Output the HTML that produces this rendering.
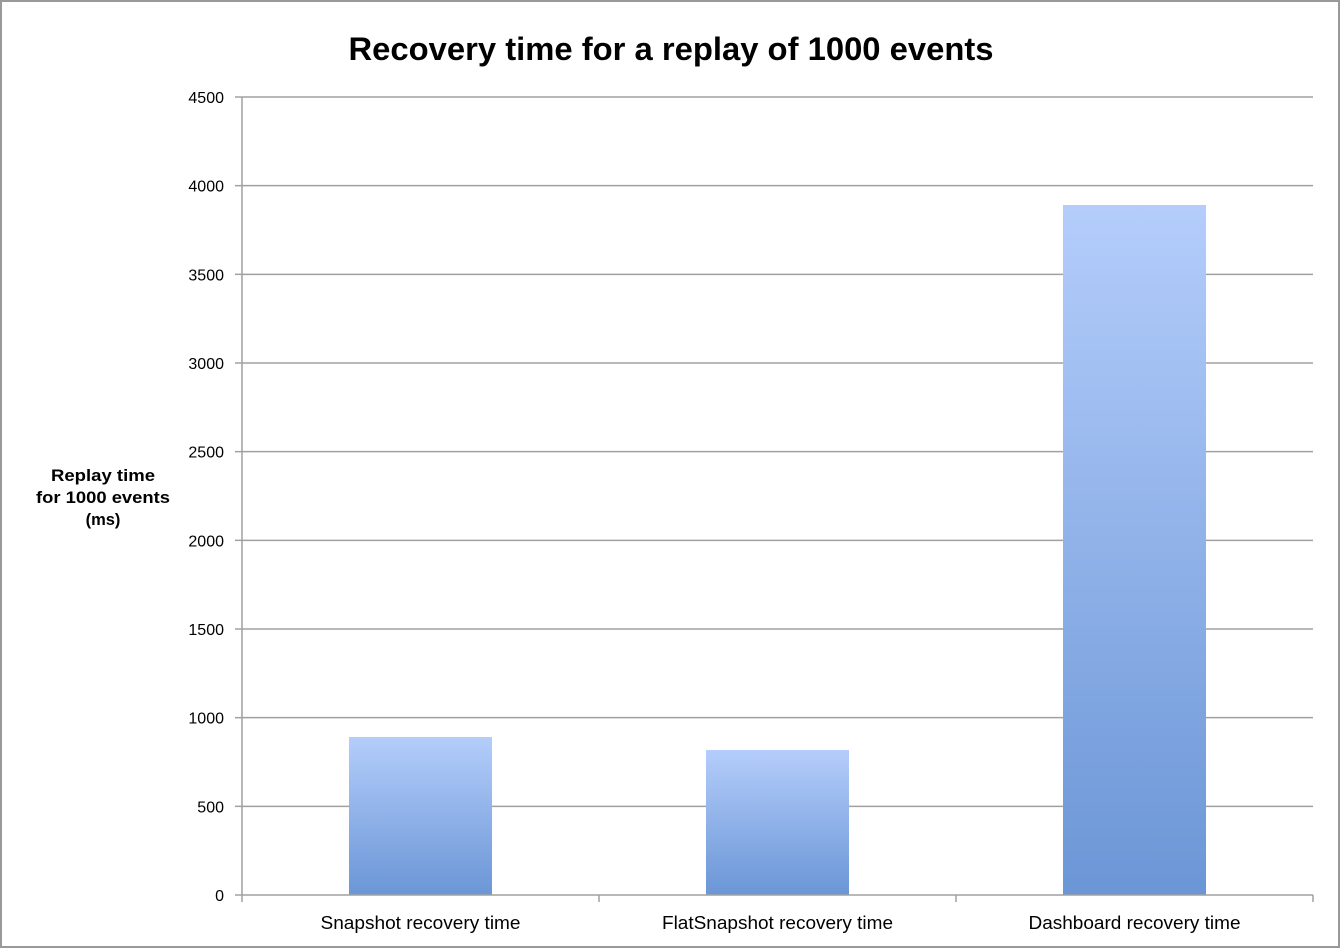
<!DOCTYPE html>
<html><head><meta charset="utf-8"><style>
html,body{margin:0;padding:0;background:#fff;}
svg{display:block;font-family:"Liberation Sans",sans-serif;}
</style></head><body>
<svg id="chart" width="1341" height="950">
<defs><linearGradient id="g" x1="0" y1="0" x2="0" y2="1"><stop offset="0" stop-color="#b4cdfb"/><stop offset="1" stop-color="#6b96d6"/></linearGradient></defs>
<rect x="1" y="1" width="1338" height="946" fill="#fff" stroke="#999" stroke-width="2"/>
<text x="671" y="60" text-anchor="middle" font-size="32" font-weight="bold" fill="#000" textLength="645" lengthAdjust="spacingAndGlyphs">Recovery time for a replay of 1000 events</text>
<text x="103" y="481" text-anchor="middle" font-size="16.5" font-weight="bold"><tspan x="103" textLength="104" lengthAdjust="spacingAndGlyphs">Replay time</tspan><tspan x="103" dy="22" textLength="134" lengthAdjust="spacingAndGlyphs">for 1000 events</tspan><tspan x="103" dy="22">(ms)</tspan></text>
<g id="grid"></g><g id="bars"></g><g id="axes"></g>
</svg>
<script>
const categories=["Snapshot recovery time","FlatSnapshot recovery time","Dashboard recovery time"];
const values=[891,818,3891];
const yTicks=[0,500,1000,1500,2000,2500,3000,3500,4000,4500];
const labelWidths=[200,231,212];
const NS="http://www.w3.org/2000/svg";
const x0=242,x1=1313,y0=895,yTop=97,yMax=4500;
const y=v=>y0-(v/yMax)*(y0-yTop);
const band=(x1-x0)/categories.length;
function mk(t,a,p){const e=document.createElementNS(NS,t);for(const k in a)e.setAttribute(k,a[k]);p.appendChild(e);return e;}
const grid=document.getElementById('grid'),bars=document.getElementById('bars'),axes=document.getElementById('axes');
yTicks.forEach(v=>{
 if(v>0){const l=mk('line',{x1:x0,x2:x1,y1:y(v),y2:y(v),stroke:'#a0a0a0','stroke-width':1.5},grid);
 
 }
 const tk=mk('line',{x1:x0-7,x2:x0,y1:y(v),y2:y(v),stroke:'#a0a0a0','stroke-width':1.5},axes);
 
 
 const t=mk('text',{x:x0-18,y:y(v)+6,'text-anchor':'end','font-size':16},axes);t.textContent=v;
 
 
});
categories.forEach((c,i)=>{
 const cx=x0+band*(i+0.5),w=143;
 const r=mk('rect',{x:cx-w/2,y:y(values[i]),width:w,height:y0-y(values[i]),fill:'url(#g)'},bars);
 
 
 const t=mk('text',{x:cx,y:929,'text-anchor':'middle','font-size':18.5,textLength:labelWidths[i],lengthAdjust:'spacingAndGlyphs'},axes);t.textContent=c;
 
 
});
for(let i=0;i<=categories.length;i++){const xx=x0+band*i;
 const tk=mk('line',{x1:xx,x2:xx,y1:y0,y2:y0+7,stroke:'#a0a0a0','stroke-width':1.5},axes);
 
 }
const ya=mk('line',{x1:x0,x2:x0,y1:yTop,y2:y0,stroke:'#a0a0a0','stroke-width':1.5},axes);


const xa=mk('line',{x1:x0,x2:x1,y1:y0,y2:y0,stroke:'#a0a0a0','stroke-width':1.5},axes);


</script>
</body></html>
